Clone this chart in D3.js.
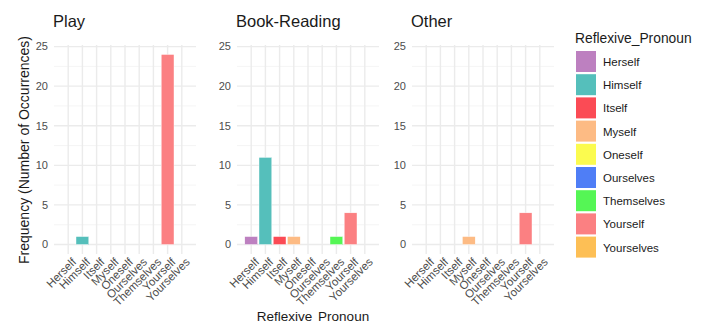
<!DOCTYPE html>
<html>
<head>
<meta charset="utf-8">
<script src="https://cdn.jsdelivr.net/npm/d3@7"></script>
<style>
  body { margin: 0; background: #fff; }
  text { font-family: "Liberation Sans", Arial, sans-serif; }
</style>
</head>
<body>
<svg id="chart" width="707" height="331"></svg>
<script>
// categories, in ggplot factor order
let pronouns = ['Herself', 'Himself', 'Itself', 'Myself', 'Oneself', 'Ourselves', 'Themselves', 'Yourself', 'Yourselves']
let colors = ['#bd80c0', '#55bfbb', '#fb4b55', '#fdbb84', '#fbfb4f', '#4f7ef6', '#55f655', '#fb8082', '#fdbf55']

// one array per facet, counts in pronoun order
let contexts = ['Play', 'Book-Reading', 'Other']
let playCounts = [0, 1, 0, 0, 0, 0, 0, 24, 0]
let bookCounts = [1, 11, 1, 1, 0, 0, 1, 4, 0]
let otherCounts = [0, 0, 0, 1, 0, 0, 0, 4, 0]
let counts = [playCounts, bookCounts, otherCounts]

let yTicks = [0, 5, 10, 15, 20, 25]
let yMinor = [2.5, 7.5, 12.5, 17.5, 22.5]

let svg = d3.select('#chart')
let panelLeft = [54, 237, 412]
let panelW = 142
let panelTop = 45, panelBottom = 254

let y = d3.scaleLinear()
          .domain([-1.2, 25.2])
          .range([panelBottom, panelTop])

let color = d3.scaleOrdinal().domain(pronouns).range(colors)

contexts.forEach((ctx, i) => {
  let g = svg.append('g').attr('transform', `translate(${panelLeft[i]},0)`)

  let x = d3.scaleBand()
            .domain(pronouns)
            .range([0, panelW])
            .paddingInner(0.1)
            .paddingOuter(0.55)

  // grid
  g.selectAll('.minor')
    .data(yMinor)
    .enter()
    .append('line')
    .attr('x1', 0).attr('x2', panelW)
    .attr('y1', d => y(d)).attr('y2', d => y(d))
    .style('stroke', '#f2f2f2')
    .style('stroke-width', 0.8)

  g.selectAll('.major')
    .data(yTicks)
    .enter()
    .append('line')
    .attr('x1', 0).attr('x2', panelW)
    .attr('y1', d => y(d)).attr('y2', d => y(d))
    .style('stroke', '#ebebeb')
    .style('stroke-width', 1.4)

  g.selectAll('.vgrid')
    .data(pronouns)
    .enter()
    .append('line')
    .attr('x1', d => x(d) + x.bandwidth() / 2)
    .attr('x2', d => x(d) + x.bandwidth() / 2)
    .attr('y1', panelTop).attr('y2', panelBottom)
    .style('stroke', '#ebebeb')
    .style('stroke-width', 1.4)

  // bars
  let data = pronouns.map((p, j) => ({name: p, n: counts[i][j]})).filter(d => d.n > 0)
  g.selectAll('rect')
    .data(data)
    .enter()
    .append('rect')
    .attr('x', d => x(d.name))
    .attr('y', d => y(d.n))
    .attr('width', x.bandwidth())
    .attr('height', d => y(0) - y(d.n))
    .style('fill', d => color(d.name))
    .style('stroke', '#fff')
    .style('stroke-width', 0.4)

  // y tick labels
  g.selectAll('.ylab')
    .data(yTicks)
    .enter()
    .append('text')
    .attr('x', -6)
    .attr('y', d => y(d))
    .attr('dy', '0.35em')
    .attr('text-anchor', 'end')
    .style('font-size', '11px')
    .style('fill', '#4d4d4d')
    .text(d => d)

  // x tick labels
  g.selectAll('.xlab')
    .data(pronouns)
    .enter()
    .append('text')
    .attr('transform', d => `translate(${x(d) + x.bandwidth() / 2 + 3},${panelBottom + 3}) rotate(-45)`)
    .attr('text-anchor', 'end')
    .attr('dy', '0.7em')
    .style('font-size', '11.5px')
    .style('fill', '#4d4d4d')
    .text(d => d)

  // facet title
  g.append('text')
    .attr('x', -1)
    .attr('y', 27)
    .style('font-size', '16.5px')
    .style('fill', '#1a1a1a')
    .text(ctx)
})

// axis titles
svg.append('text')
   .attr('transform', 'translate(29,150) rotate(-90)')
   .attr('text-anchor', 'middle')
   .style('font-size', '14px')
   .style('fill', '#1a1a1a')
   .text('Frequency (Number of Occurrences)')

svg.append('text')
   .attr('x', 313)
   .attr('y', 321)
   .attr('text-anchor', 'middle')
   .style('font-size', '13.5px')
   .style('fill', '#1a1a1a')
   .style('word-spacing', '2px')
   .text('Reflexive Pronoun')

// legend
let legend = svg.append('g').attr('transform', 'translate(575,0)')
legend.append('text')
      .attr('x', 0)
      .attr('y', 43)
      .style('font-size', '13.8px')
      .style('fill', '#1a1a1a')
      .text('Reflexive_Pronoun')

let keys = legend.selectAll('.key')
  .data(pronouns)
  .enter()
  .append('g')
  .attr('transform', (d, i) => `translate(0,${51 + i * 23.2})`)

keys.append('rect')
    .attr('x', 1)
    .attr('width', 20)
    .attr('height', 21)
    .style('fill', d => color(d))

keys.append('text')
    .attr('x', 28)
    .attr('y', 11)
    .attr('dy', '0.35em')
    .style('font-size', '11.5px')
    .style('fill', '#1a1a1a')
    .text(d => d)
</script>
</body>
</html>
